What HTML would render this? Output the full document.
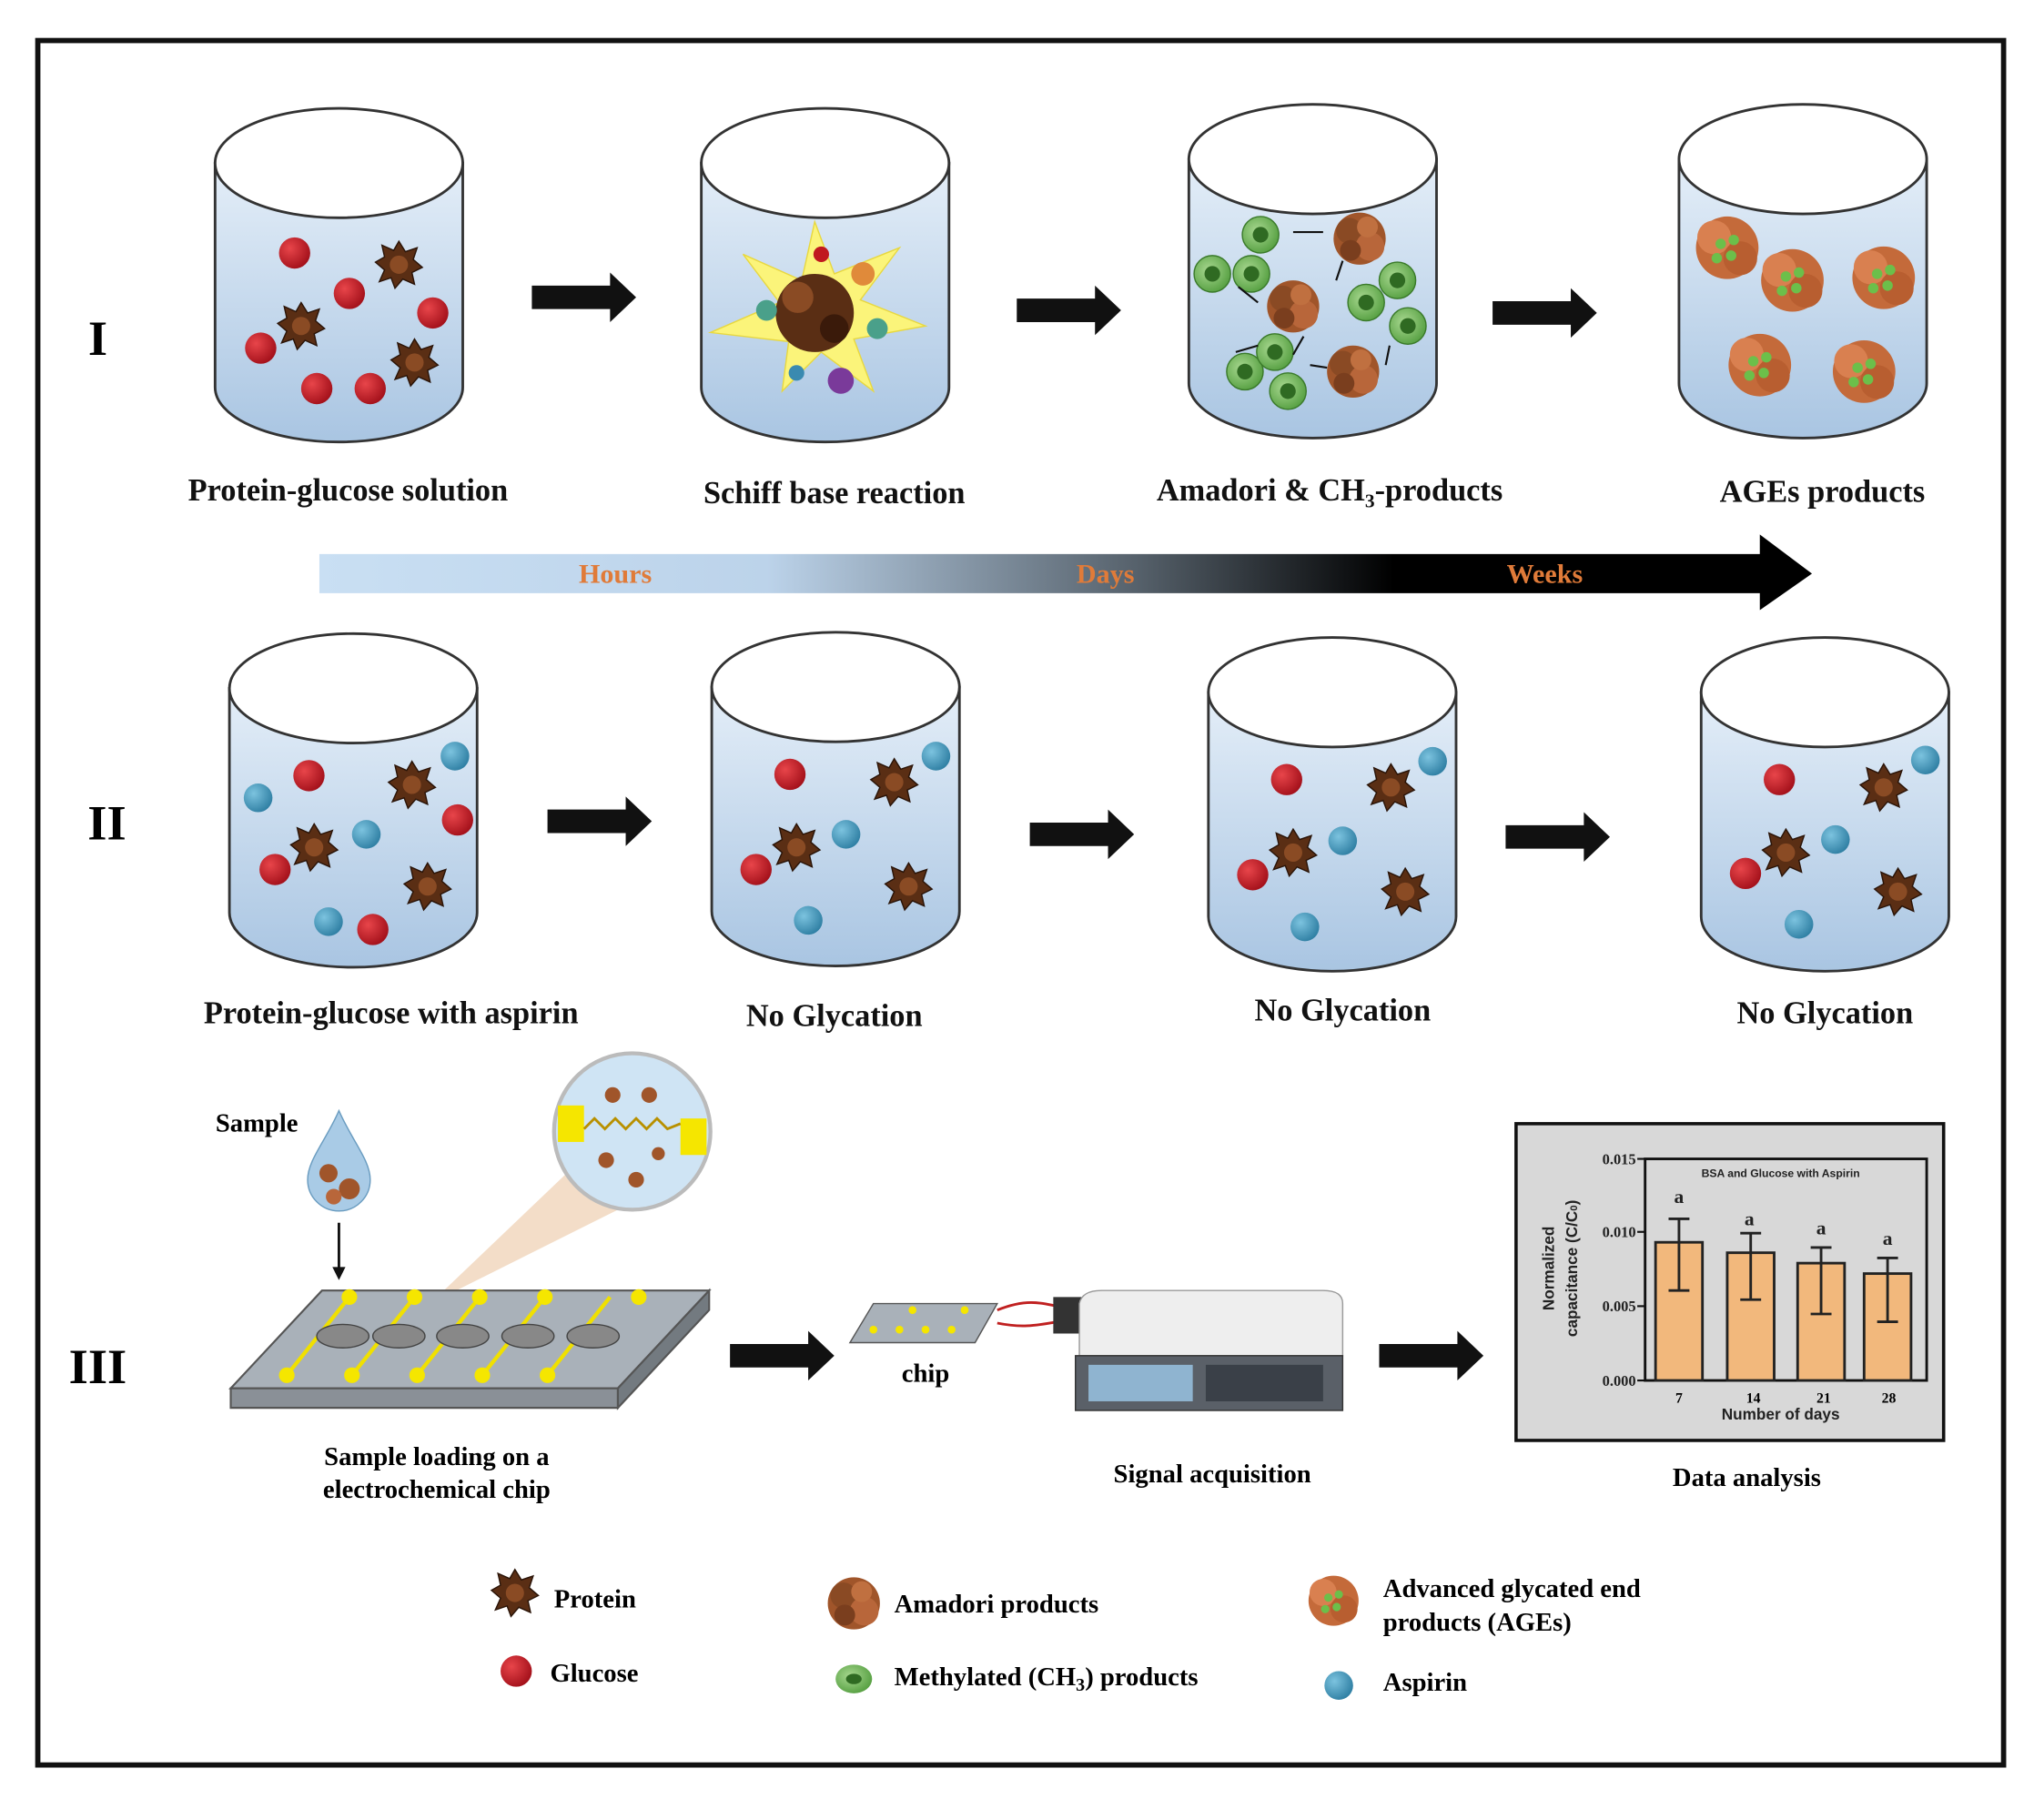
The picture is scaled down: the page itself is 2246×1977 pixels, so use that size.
<!DOCTYPE html>
<html><head><meta charset="utf-8"><style>
html,body{margin:0;padding:0;background:#fff}
svg{display:block}
text{font-family:"Liberation Serif",serif;font-weight:bold}
.lab{font-size:24px;fill:#111}
.ax{font-family:"Liberation Sans",sans-serif;font-weight:bold;fill:#222}
</style></head><body>
<svg width="2246" height="1977" viewBox="0 0 1568 1380" xmlns="http://www.w3.org/2000/svg">
<defs>
<linearGradient id="water" x1="0" y1="0" x2="0" y2="1">
<stop offset="0" stop-color="#e4eef8"/><stop offset="1" stop-color="#a9c5e2"/></linearGradient>
<linearGradient id="tl" x1="0" y1="0" x2="1" y2="0">
<stop offset="0" stop-color="#c9dff3"/><stop offset="0.3" stop-color="#bcd3ea"/><stop offset="0.55" stop-color="#55606a"/><stop offset="0.72" stop-color="#000"/><stop offset="1" stop-color="#000"/></linearGradient>
<radialGradient id="red" cx="0.35" cy="0.35" r="0.7"><stop offset="0" stop-color="#e8454a"/><stop offset="1" stop-color="#a3101a"/></radialGradient>
<radialGradient id="blue" cx="0.35" cy="0.35" r="0.7"><stop offset="0" stop-color="#7cc3df"/><stop offset="1" stop-color="#2f7fa3"/></radialGradient>
<radialGradient id="green" cx="0.4" cy="0.4" r="0.7"><stop offset="0" stop-color="#a8d890"/><stop offset="1" stop-color="#4e9a3a"/></radialGradient>
<g id="beaker">
<path d="M-95 0 L-95 172 A95 42 0 0 0 95 172 L95 0 Z" fill="url(#water)" stroke="#333" stroke-width="2"/>
<ellipse cx="0" cy="0" rx="95" ry="42" fill="#fff" stroke="#333" stroke-width="2"/>
</g>
<g id="prot"><polygon points="0,-18 5,-10 14,-13 11,-4 18,2 10,6 12,15 3,11 -3,18 -6,10 -15,13 -11,4 -18,-2 -11,-6 -13,-15 -4,-11" fill="#5a2e14" stroke="#2a1408" stroke-width="1"/><circle r="7" fill="#8a4b24"/></g>
<g id="glu"><circle r="12" fill="url(#red)"/></g>
<g id="asp"><circle r="11" fill="url(#blue)"/></g>
<g id="cell"><circle r="14" fill="url(#green)" stroke="#3a7a2a" stroke-width="1"/><circle r="6" fill="#2f6a22"/></g>
<g id="ama"><circle r="20" fill="#a0552a"/><circle cx="-8" cy="-6" r="10" fill="#8a4a24"/><circle cx="8" cy="6" r="11" fill="#b8663a"/><circle cx="6" cy="-9" r="8" fill="#c07040"/><circle cx="-7" cy="9" r="8" fill="#7a3e1e"/></g>
<g id="age"><circle r="24" fill="#c46a3a"/><circle cx="-10" cy="-8" r="13" fill="#d98050"/><circle cx="10" cy="8" r="13" fill="#b85e30"/><circle cx="-5" cy="-3" r="4" fill="#6cbf4a"/><circle cx="5" cy="-6" r="4" fill="#6cbf4a"/><circle cx="3" cy="6" r="4" fill="#6cbf4a"/><circle cx="-8" cy="8" r="4" fill="#6cbf4a"/></g>
<g id="arr"><polygon points="0,-9 60,-9 60,-19 80,0 60,19 60,9 0,9" fill="#111"/></g>
</defs>
<rect width="1568" height="1380" fill="#fff"/>
<rect x="29" y="31" width="1508" height="1323" fill="none" stroke="#111" stroke-width="4"/>

<text x="75" y="272" font-size="38" text-anchor="middle">I</text>
<use href="#beaker" x="260" y="125"/>
<use href="#beaker" x="633" y="125"/>
<use href="#beaker" x="1007" y="122"/>
<use href="#beaker" x="1383" y="122"/>
<use href="#glu" x="226" y="194"/><use href="#glu" x="268" y="225"/><use href="#glu" x="332" y="240"/><use href="#glu" x="200" y="267"/><use href="#glu" x="243" y="298"/><use href="#glu" x="284" y="298"/>
<use href="#prot" x="306" y="203"/><use href="#prot" x="231" y="250"/><use href="#prot" x="318" y="278"/>
<polygon points="625,170 640,210 690,190 660,230 710,250 655,260 670,300 630,270 600,300 605,262 545,255 598,232 570,195 615,215" fill="#fbf47a" stroke="#e8d840"/>
<circle cx="625" cy="240" r="30" fill="#5a2e14"/><circle cx="612" cy="228" r="12" fill="#8a4b24"/><circle cx="640" cy="252" r="11" fill="#3a1a0a"/>
<circle cx="630" cy="195" r="6" fill="#c0181f"/><circle cx="662" cy="210" r="9" fill="#e08a3a"/><circle cx="588" cy="238" r="8" fill="#4aa08a"/><circle cx="673" cy="252" r="8" fill="#4aa08a"/><circle cx="645" cy="292" r="10" fill="#7a3a9a"/><circle cx="611" cy="286" r="6" fill="#3a8ab0"/>
<use href="#cell" x="967" y="180"/><use href="#cell" x="930" y="210"/><use href="#cell" x="960" y="210"/><use href="#cell" x="1048" y="232"/><use href="#cell" x="1072" y="215"/><use href="#cell" x="1080" y="250"/><use href="#cell" x="955" y="285"/><use href="#cell" x="978" y="270"/><use href="#cell" x="988" y="300"/>
<use href="#ama" x="1043" y="183"/><use href="#ama" x="992" y="235"/><use href="#ama" x="1038" y="285"/>
<g stroke="#111" stroke-width="1.5"><line x1="1015" y1="178" x2="992" y2="178"/><line x1="1030" y1="200" x2="1025" y2="215"/><line x1="950" y1="220" x2="965" y2="232"/><line x1="1000" y1="258" x2="992" y2="272"/><line x1="965" y1="265" x2="948" y2="270"/><line x1="1005" y1="280" x2="1018" y2="282"/><line x1="1066" y1="265" x2="1063" y2="280"/></g>
<use href="#age" x="1325" y="190"/><use href="#age" x="1375" y="215"/><use href="#age" x="1445" y="213"/><use href="#age" x="1350" y="280"/><use href="#age" x="1430" y="285"/>
<use href="#arr" x="408" y="228"/><use href="#arr" x="780" y="238"/><use href="#arr" x="1145" y="240"/>
<text class="lab" x="267" y="384" text-anchor="middle">Protein-glucose solution</text>
<text class="lab" x="640" y="386" text-anchor="middle">Schiff base reaction</text>
<text class="lab" x="1020" y="384" text-anchor="middle">Amadori &amp; CH<tspan font-size="15" dy="5">3</tspan><tspan dy="-5">-products</tspan></text>
<text class="lab" x="1398" y="385" text-anchor="middle">AGEs products</text>

<polygon points="245,425 1350,425 1350,410 1390,440 1350,468 1350,455 245,455" fill="url(#tl)"/>
<text x="472" y="447" font-size="21" fill="#e07b39" text-anchor="middle">Hours</text>
<text x="848" y="447" font-size="21" fill="#e07b39" text-anchor="middle">Days</text>
<text x="1185" y="447" font-size="21" fill="#e07b39" text-anchor="middle">Weeks</text>

<text x="82" y="644" font-size="38" text-anchor="middle">II</text>
<use href="#beaker" x="271" y="528"/><use href="#beaker" x="641" y="527"/><use href="#beaker" x="1022" y="531"/><use href="#beaker" x="1400" y="531"/>
<use href="#asp" x="198" y="612"/><use href="#asp" x="349" y="580"/><use href="#asp" x="281" y="640"/><use href="#asp" x="252" y="707"/>
<use href="#glu" x="237" y="595"/><use href="#glu" x="351" y="629"/><use href="#glu" x="211" y="667"/><use href="#glu" x="286" y="713"/>
<use href="#prot" x="316" y="602"/><use href="#prot" x="241" y="650"/><use href="#prot" x="328" y="680"/>
<use href="#glu" x="606" y="594"/><use href="#glu" x="580" y="667"/><use href="#asp" x="718" y="580"/><use href="#asp" x="649" y="640"/><use href="#asp" x="620" y="706"/>
<use href="#prot" x="686" y="600"/><use href="#prot" x="611" y="650"/><use href="#prot" x="697" y="680"/>
<use href="#glu" x="987" y="598"/><use href="#glu" x="961" y="671"/><use href="#asp" x="1099" y="584"/><use href="#asp" x="1030" y="645"/><use href="#asp" x="1001" y="711"/>
<use href="#prot" x="1067" y="604"/><use href="#prot" x="992" y="654"/><use href="#prot" x="1078" y="684"/>
<use href="#glu" x="1365" y="598"/><use href="#glu" x="1339" y="670"/><use href="#asp" x="1477" y="583"/><use href="#asp" x="1408" y="644"/><use href="#asp" x="1380" y="709"/>
<use href="#prot" x="1445" y="604"/><use href="#prot" x="1370" y="654"/><use href="#prot" x="1456" y="684"/>
<use href="#arr" x="420" y="630"/><use href="#arr" x="790" y="640"/><use href="#arr" x="1155" y="642"/>
<text class="lab" x="300" y="785" text-anchor="middle">Protein-glucose with aspirin</text>
<text class="lab" x="640" y="787" text-anchor="middle">No Glycation</text>
<text class="lab" x="1030" y="783" text-anchor="middle">No Glycation</text>
<text class="lab" x="1400" y="785" text-anchor="middle">No Glycation</text>

<text x="75" y="1061" font-size="38" text-anchor="middle">III</text>
<text x="197" y="868" font-size="20" text-anchor="middle">Sample</text>
<path d="M260 852 C250 875 236 890 236 905 A24 24 0 0 0 284 905 C284 890 270 875 260 852 Z" fill="#a9cbe6" stroke="#6a9cc0"/>
<circle cx="252" cy="900" r="7" fill="#a0552a"/><circle cx="268" cy="912" r="8" fill="#a0552a"/><circle cx="256" cy="918" r="6" fill="#b8663a"/>
<line x1="260" y1="938" x2="260" y2="975" stroke="#111" stroke-width="2"/><polygon points="255,972 265,972 260,982" fill="#111"/>
<polygon points="330,1000 440,895 520,905" fill="#f2d9c2" opacity="0.9"/>
<circle cx="485" cy="868" r="60" fill="#cfe4f4" stroke="#bbb" stroke-width="3"/>
<rect x="428" y="848" width="20" height="28" fill="#f5e600"/><rect x="522" y="858" width="20" height="28" fill="#f5e600"/>
<path d="M448 866 l8 -8 l8 8 l8 -8 l8 8 l8 -8 l8 8 l8 -8 l8 8 l10 -4" fill="none" stroke="#b89000" stroke-width="2"/>
<circle cx="470" cy="840" r="6" fill="#a0552a"/><circle cx="498" cy="840" r="6" fill="#a0552a"/><circle cx="465" cy="890" r="6" fill="#a0552a"/><circle cx="488" cy="905" r="6" fill="#a0552a"/><circle cx="505" cy="885" r="5" fill="#a0552a"/>
<polygon points="177,1065 247,990 544,990 474,1065" fill="#a9b1b9" stroke="#555" stroke-width="1.5"/>
<polygon points="177,1065 474,1065 474,1080 177,1080" fill="#8a9097" stroke="#555" stroke-width="1.5"/>
<polygon points="474,1065 544,990 544,1005 474,1080" fill="#737a80" stroke="#555" stroke-width="1.5"/>
<g stroke="#f0e000" stroke-width="3"><line x1="220" y1="1055" x2="268" y2="995"/><line x1="270" y1="1055" x2="318" y2="995"/><line x1="320" y1="1055" x2="368" y2="995"/><line x1="370" y1="1055" x2="418" y2="995"/><line x1="420" y1="1055" x2="468" y2="995"/></g>
<g fill="#f5e600"><circle cx="220" cy="1055" r="6"/><circle cx="268" cy="995" r="6"/><circle cx="270" cy="1055" r="6"/><circle cx="318" cy="995" r="6"/><circle cx="320" cy="1055" r="6"/><circle cx="368" cy="995" r="6"/><circle cx="370" cy="1055" r="6"/><circle cx="418" cy="995" r="6"/><circle cx="420" cy="1055" r="6"/><circle cx="490" cy="995" r="6"/></g>
<g fill="#888" stroke="#444"><ellipse cx="263" cy="1025" rx="20" ry="9"/><ellipse cx="306" cy="1025" rx="20" ry="9"/><ellipse cx="355" cy="1025" rx="20" ry="9"/><ellipse cx="405" cy="1025" rx="20" ry="9"/><ellipse cx="455" cy="1025" rx="20" ry="9"/></g>
<text x="335" y="1124" font-size="20" text-anchor="middle">Sample loading on a</text>
<text x="335" y="1149" font-size="20" text-anchor="middle">electrochemical chip</text>
<use href="#arr" x="560" y="1040"/>
<polygon points="652,1030 670,1000 765,1000 748,1030" fill="#a9b1b9" stroke="#555"/>
<g fill="#f5e600"><circle cx="670" cy="1020" r="3"/><circle cx="690" cy="1020" r="3"/><circle cx="710" cy="1020" r="3"/><circle cx="730" cy="1020" r="3"/><circle cx="700" cy="1005" r="3"/><circle cx="740" cy="1005" r="3"/></g>
<path d="M765 1005 C790 995 800 1000 825 1005 M765 1015 C790 1020 800 1015 825 1012" stroke="#c02020" stroke-width="2" fill="none"/>
<text x="710" y="1060" font-size="20" text-anchor="middle">chip</text>
<rect x="808" y="995" width="22" height="28" fill="#333"/>
<path d="M828 1000 Q830 990 845 990 L1015 990 Q1030 990 1030 1000 L1030 1040 L828 1040 Z" fill="#eeeeee" stroke="#999"/>
<rect x="825" y="1040" width="205" height="42" fill="#5a6068" stroke="#333"/>
<rect x="835" y="1047" width="80" height="28" fill="#8fb4d0"/>
<rect x="925" y="1047" width="90" height="28" fill="#3a4048"/>
<text x="930" y="1137" font-size="20" text-anchor="middle">Signal acquisition</text>
<use href="#arr" x="1058" y="1040"/>

<rect x="1163" y="862" width="328" height="243" fill="#d8d8d8" stroke="#111" stroke-width="2.5"/>
<rect x="1262" y="889" width="216" height="170" fill="none" stroke="#111" stroke-width="2"/>
<g stroke="#111" stroke-width="1.5"><line x1="1256" y1="889" x2="1262" y2="889"/><line x1="1256" y1="945" x2="1262" y2="945"/><line x1="1256" y1="1002" x2="1262" y2="1002"/><line x1="1256" y1="1059" x2="1262" y2="1059"/></g>
<g class="ax" font-size="11.5" text-anchor="end"><text x="1255" y="893">0.015</text><text x="1255" y="949">0.010</text><text x="1255" y="1006">0.005</text><text x="1255" y="1063">0.000</text></g>
<text class="ax" x="1366" y="903" font-size="8.5" text-anchor="middle">BSA and Glucose with Aspirin</text>
<g fill="#f2b87c" stroke="#222" stroke-width="2">
<rect x="1270" y="953" width="36" height="106"/><rect x="1325" y="961" width="36" height="98"/><rect x="1379" y="969" width="36" height="90"/><rect x="1430" y="977" width="36" height="82"/></g>
<g stroke="#222" stroke-width="2"><path d="M1288 935V990M1280 935H1296M1280 990H1296"/><path d="M1343 946V997M1335 946H1351M1335 997H1351"/><path d="M1397 957V1008M1389 957H1405M1389 1008H1405"/><path d="M1448 965V1014M1440 965H1456M1440 1014H1456"/></g>
<g class="ax" font-size="15" text-anchor="middle"><text x="1288" y="923">a</text><text x="1342" y="940">a</text><text x="1397" y="947">a</text><text x="1448" y="955">a</text></g>
<g font-size="11" text-anchor="middle"><text x="1288" y="1076">7</text><text x="1345" y="1076">14</text><text x="1399" y="1076">21</text><text x="1449" y="1076">28</text></g>
<text class="ax" x="1366" y="1089" font-size="12" text-anchor="middle">Number of days</text>
<text class="ax" font-size="12" text-anchor="middle" transform="translate(1192 973) rotate(-90)">Normalized</text>
<text class="ax" font-size="12" text-anchor="middle" transform="translate(1210 973) rotate(-90)">capacitance (C/C<tspan font-size="8">0</tspan>)</text>
<text x="1340" y="1140" font-size="20" text-anchor="middle">Data analysis</text>

<use href="#prot" x="395" y="1222"/><text x="425" y="1233" font-size="20">Protein</text>
<use href="#glu" x="396" y="1282"/><text x="422" y="1290" font-size="20">Glucose</text>
<use href="#ama" x="655" y="1230"/><text x="686" y="1237" font-size="20">Amadori products</text>
<ellipse cx="655" cy="1288" rx="14" ry="11" fill="url(#green)"/><ellipse cx="655" cy="1288" rx="6" ry="4" fill="#2f6a22"/>
<text x="686" y="1293" font-size="20">Methylated (CH<tspan font-size="14" dy="4">3</tspan><tspan dy="-4">) products</tspan></text>
<use href="#age" transform="translate(1023 1228) scale(0.8)"/>
<text x="1061" y="1225" font-size="20">Advanced glycated end</text>
<text x="1061" y="1251" font-size="20">products (AGEs)</text>
<use href="#asp" x="1027" y="1293"/><text x="1061" y="1297" font-size="20">Aspirin</text>
</svg>
</body></html>
